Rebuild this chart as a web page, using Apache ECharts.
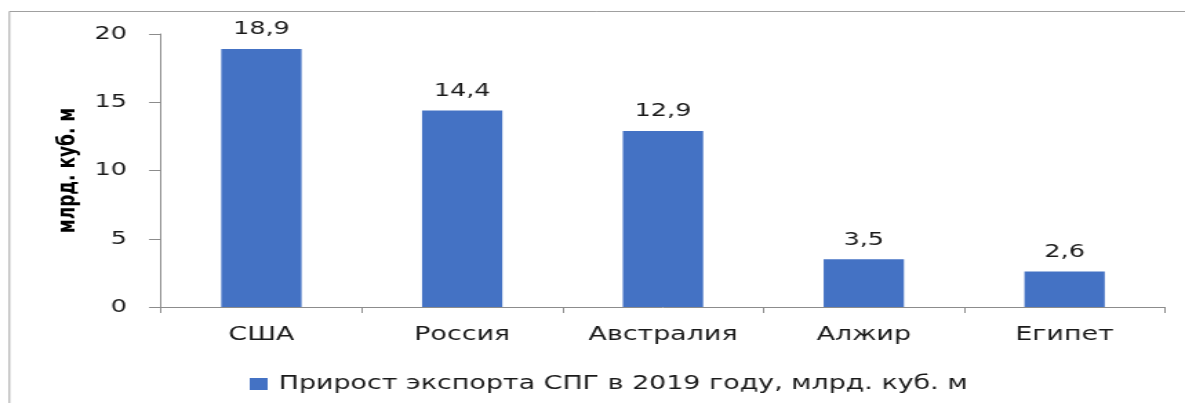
<!DOCTYPE html>
<html>
<head>
<meta charset="utf-8">
<script src="https://cdn.jsdelivr.net/npm/echarts@6/dist/echarts.min.js"></script>
<style>
  html, body { margin: 0; padding: 0; background: #fff; overflow: hidden; }
  /* the source picture is stretched sideways, so the chart is drawn narrow and widened */
  #main { width: 859px; height: 403px; transform: scaleX(1.3795); transform-origin: 0 0; }
</style>
</head>
<body>
<div id="main"></div>
<script>
var countries = ['США', 'Россия', 'Австралия', 'Алжир', 'Египет'];
var growth = [18.9, 14.4, 12.9, 3.5, 2.6];
var seriesName = 'Прирост экспорта СПГ в 2019 году, млрд. куб. м';
var axisTitle = 'млрд. куб. м';

var chart = echarts.init(document.getElementById('main'));
var font = 'DejaVu Sans';
var ink = '#1a1a1a';
var axisGray = '#8c8c8c';

chart.setOption({
    animation: false,
    textStyle: { fontFamily: font },
    graphic: [{
        type: 'polyline',
        shape: { points: [[6.8, 403], [6.8, 11.5], [859, 11.5]] },
        style: { fill: 'none', stroke: '#a0a0a0', lineWidth: 1 },
        silent: true
    }],
    grid: { left: 116.7, right: 14.5, top: 34, bottom: 96 },
    legend: {
        data: [seriesName],
        top: 374,
        left: 181,
        padding: 0,
        itemWidth: 13,
        itemHeight: 12,
        icon: 'rect',
        itemGap: 5,
        textStyle: { fontSize: 19.5, color: ink, fontFamily: font, padding: [0, 0, 0, 3] }
    },
    xAxis: {
        type: 'category',
        data: countries,
        axisLine: { lineStyle: { color: axisGray, width: 1 } },
        axisTick: { show: true, length: 6, lineStyle: { color: axisGray } },
        axisLabel: { fontSize: 19.5, color: ink, margin: 18, fontFamily: font }
    },
    yAxis: {
        type: 'value',
        min: 0,
        max: 20,
        interval: 5,
        name: axisTitle,
        nameLocation: 'middle',
        nameGap: 56,
        nameTextStyle: { fontSize: 17, fontWeight: 'bold', color: '#000', fontFamily: font },
        axisLine: { show: true, lineStyle: { color: axisGray, width: 1 } },
        axisTick: { show: true, length: 8.7, lineStyle: { color: axisGray } },
        splitLine: { show: false },
        axisLabel: { fontSize: 18.5, color: ink, margin: 24.6, fontFamily: font }
    },
    series: [{
        name: seriesName,
        type: 'bar',
        data: growth,
        barWidth: '40%',
        itemStyle: { color: '#4472c4' },
        label: {
            show: true,
            position: 'top',
            distance: 10,
            fontSize: 18.5,
            color: ink,
            fontFamily: font,
            formatter: function (p) { return String(p.value).replace('.', ','); }
        }
    }]
});
</script>
</body>
</html>
